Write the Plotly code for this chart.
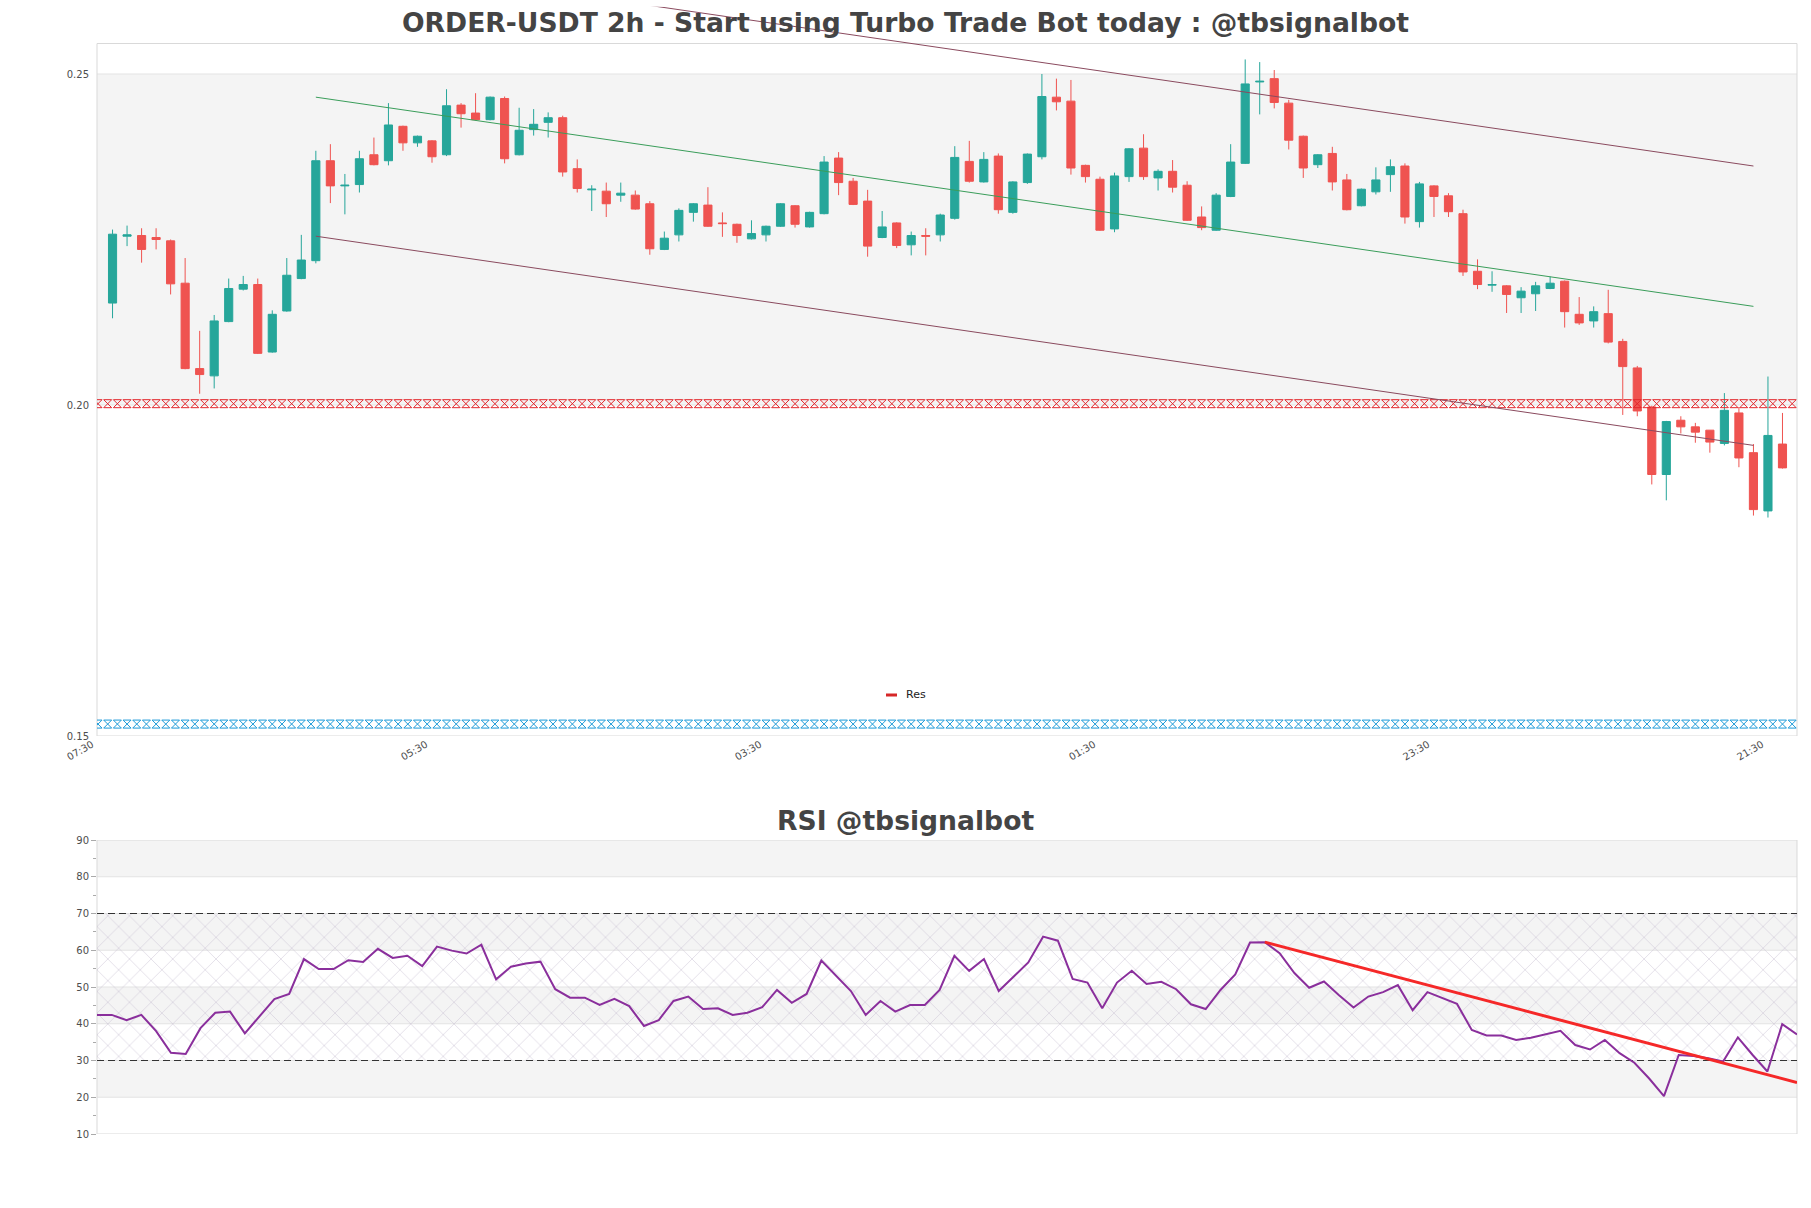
import pandas as pd
import plotly.graph_objects as go

FONT = "DejaVu Sans"

# ---------------- data ----------------
CANDLE_START = "2024-05-20 09:30"
candle_times = pd.date_range(CANDLE_START, periods=116, freq="2h")

open_ = [0.2154, 0.2255, 0.2256, 0.2253, 0.2248, 0.2184, 0.2055, 0.2044, 0.2126, 0.2175,
         0.2182, 0.2080, 0.2142, 0.2191, 0.2218, 0.2369, 0.2331, 0.2333, 0.2378, 0.2369,
         0.2421, 0.2396, 0.2399, 0.2378, 0.2453, 0.2441, 0.2431, 0.2463, 0.2378, 0.2416,
         0.2427, 0.2434, 0.2357, 0.2325, 0.2323, 0.2317, 0.2317, 0.2304, 0.2235, 0.2257,
         0.2291, 0.2302, 0.2275, 0.2273, 0.2251, 0.2257, 0.2270, 0.2301, 0.2269, 0.2289,
         0.2373, 0.2338, 0.2308, 0.2253, 0.2275, 0.2242, 0.2256, 0.2257, 0.2282, 0.2368,
         0.2337, 0.2376, 0.2291, 0.2336, 0.2375, 0.2465, 0.2459, 0.2362, 0.2341, 0.2266,
         0.2345, 0.2388, 0.2343, 0.2353, 0.2332, 0.2284, 0.2264, 0.2315, 0.2365, 0.2488,
         0.2493, 0.2456, 0.2406, 0.2363, 0.2380, 0.2340, 0.2301, 0.2322, 0.2348, 0.2361,
         0.2277, 0.2331, 0.2316, 0.2289, 0.2202, 0.2181, 0.2180, 0.2162, 0.2168, 0.2176,
         0.2187, 0.2137, 0.2127, 0.2138, 0.2096, 0.2056, 0.1997, 0.1895, 0.1977, 0.1967,
         0.1962, 0.1942, 0.1988, 0.1928, 0.1840, 0.1941]
high = [0.2265, 0.2271, 0.2267, 0.2267, 0.2250, 0.2222, 0.2112, 0.2136, 0.2191, 0.2195,
        0.2191, 0.2143, 0.2222, 0.2257, 0.2384, 0.2394, 0.2349, 0.2384, 0.2404, 0.2456,
        0.2422, 0.2407, 0.2400, 0.2477, 0.2456, 0.2471, 0.2466, 0.2466, 0.2449, 0.2447,
        0.2442, 0.2437, 0.2371, 0.2332, 0.2336, 0.2336, 0.2324, 0.2308, 0.2262, 0.2297,
        0.2305, 0.2329, 0.2291, 0.2274, 0.2279, 0.2271, 0.2305, 0.2302, 0.2292, 0.2376,
        0.2382, 0.2343, 0.2325, 0.2293, 0.2276, 0.2262, 0.2267, 0.2289, 0.2391, 0.2399,
        0.2382, 0.2380, 0.2338, 0.2380, 0.2500, 0.2493, 0.2491, 0.2363, 0.2345, 0.2351,
        0.2388, 0.2409, 0.2356, 0.2370, 0.2338, 0.2300, 0.2320, 0.2394, 0.2522, 0.2518,
        0.2506, 0.2461, 0.2407, 0.2379, 0.2390, 0.2349, 0.2327, 0.2359, 0.2371, 0.2365,
        0.2337, 0.2332, 0.2320, 0.2295, 0.2220, 0.2202, 0.2181, 0.2178, 0.2186, 0.2194,
        0.2188, 0.2163, 0.2149, 0.2174, 0.2100, 0.2059, 0.1999, 0.1976, 0.1983, 0.1973,
        0.1962, 0.2018, 0.1997, 0.1941, 0.2043, 0.1988]
low = [0.2131, 0.2240, 0.2215, 0.2235, 0.2167, 0.2054, 0.2017, 0.2025, 0.2125, 0.2173,
       0.2077, 0.2079, 0.2141, 0.2190, 0.2214, 0.2305, 0.2288, 0.2321, 0.2362, 0.2362,
       0.2384, 0.2390, 0.2366, 0.2376, 0.2419, 0.2430, 0.2430, 0.2365, 0.2377, 0.2407,
       0.2404, 0.2345, 0.2321, 0.2293, 0.2284, 0.2307, 0.2295, 0.2227, 0.2234, 0.2247,
       0.2277, 0.2269, 0.2254, 0.2245, 0.2250, 0.2247, 0.2269, 0.2268, 0.2268, 0.2288,
       0.2317, 0.2302, 0.2224, 0.2252, 0.2237, 0.2226, 0.2226, 0.2247, 0.2280, 0.2336,
       0.2336, 0.2289, 0.2289, 0.2334, 0.2371, 0.2445, 0.2348, 0.2336, 0.2263, 0.2261,
       0.2337, 0.2340, 0.2324, 0.2321, 0.2278, 0.2264, 0.2263, 0.2314, 0.2364, 0.2439,
       0.2448, 0.2386, 0.2343, 0.2358, 0.2324, 0.2294, 0.2300, 0.2318, 0.2322, 0.2274,
       0.2268, 0.2284, 0.2284, 0.2195, 0.2175, 0.2171, 0.2139, 0.2139, 0.2142, 0.2175,
       0.2117, 0.2121, 0.2117, 0.2093, 0.1985, 0.1983, 0.1880, 0.1856, 0.1957, 0.1943,
       0.1928, 0.1939, 0.1906, 0.1833, 0.1830, 0.1904]
close = [0.2258, 0.2257, 0.2235, 0.2250, 0.2183, 0.2055, 0.2046, 0.2127, 0.2176, 0.2182,
         0.2078, 0.2137, 0.2196, 0.2219, 0.2369, 0.2331, 0.2332, 0.2372, 0.2363, 0.2423,
         0.2396, 0.2406, 0.2375, 0.2452, 0.2440, 0.2431, 0.2465, 0.2372, 0.2415, 0.2424,
         0.2434, 0.2352, 0.2327, 0.2326, 0.2304, 0.2320, 0.2296, 0.2236, 0.2252, 0.2294,
         0.2304, 0.2270, 0.2274, 0.2256, 0.2259, 0.2270, 0.2304, 0.2273, 0.2291, 0.2367,
         0.2336, 0.2303, 0.2240, 0.2269, 0.2241, 0.2256, 0.2255, 0.2287, 0.2374, 0.2338,
         0.2371, 0.2295, 0.2337, 0.2379, 0.2466, 0.2458, 0.2358, 0.2345, 0.2264, 0.2346,
         0.2387, 0.2345, 0.2353, 0.2329, 0.2279, 0.2268, 0.2317, 0.2367, 0.2485, 0.2489,
         0.2457, 0.2400, 0.2358, 0.2378, 0.2337, 0.2295, 0.2326, 0.2340, 0.2360, 0.2284,
         0.2334, 0.2315, 0.2292, 0.2201, 0.2182, 0.2182, 0.2167, 0.2172, 0.2180, 0.2184,
         0.2141, 0.2124, 0.2141, 0.2095, 0.2058, 0.1991, 0.1895, 0.1975, 0.1967, 0.1959,
         0.1944, 0.1992, 0.1920, 0.1842, 0.1954, 0.1905]

rsi = [42.4, 42.4, 41.0, 42.4, 38.0, 32.1, 31.8, 38.8, 43.0, 43.3,
       37.4, 42.1, 46.7, 48.1, 57.6, 54.9, 54.9, 57.3, 56.8, 60.4,
       57.9, 58.5, 55.7, 61.0, 59.9, 59.1, 61.5, 52.1, 55.5, 56.4,
       56.9, 49.4, 47.1, 47.1, 45.1, 46.8, 44.8, 39.4, 41.0, 46.2,
       47.4, 44.0, 44.2, 42.4, 43.0, 44.5, 49.2, 45.7, 48.1, 57.2,
       53.0, 48.9, 42.4, 46.2, 43.3, 45.1, 45.1, 49.2, 58.5, 54.4,
       57.6, 48.9, 52.8, 56.7, 63.7, 62.6, 52.2, 51.2, 44.2, 51.2,
       54.4, 50.8, 51.4, 49.4, 45.3, 44.0, 49.2, 53.4, 62.1, 62.2,
       59.2, 53.8, 49.8, 51.5, 47.8, 44.4, 47.4, 48.6, 50.5, 43.7,
       48.6, 47.1, 45.4, 38.3, 36.8, 36.8, 35.6, 36.2, 37.2, 38.1,
       34.2, 33.0, 35.6, 32.0, 29.4, 25.1, 20.3, 31.5, 31.2, 30.6,
       29.7, 36.3, 31.5, 27.0, 39.9, 37.1]

tick_times = ["2024-05-20 07:30", "2024-05-22 05:30", "2024-05-24 03:30",
              "2024-05-26 01:30", "2024-05-27 23:30", "2024-05-29 21:30"]
tick_labels = ["07:30", "05:30", "03:30", "01:30", "23:30", "21:30"]

price_ticks = [0.15, 0.20, 0.25]
price_tick_labels = ["0.15", "0.20", "0.25"]

resistance_level = 0.2002
support_level = 0.1518

channel_idx = [14, 113]
channel_upper = [0.2677, 0.2361]
channel_mid = [0.2465, 0.2149]
channel_lower = [0.2255, 0.1939]

rsi_trend_idx = [79, 115]
rsi_trend_values = [62.2, 24.0]

RSI_OVERBOUGHT = 70
RSI_OVERSOLD = 30
rsi_band_starts = [20, 40, 60, 80]
rsi_grid = [20, 30, 40, 50, 60, 70, 80]

# ---------------- style / layout ----------------
W, H = 1811, 1208
STEP = pd.Timedelta(hours=2)
x_left = candle_times[0] - 1.07 * STEP
x_right = candle_times[-1] + 1.0 * STEP

XDOM = [97 / W, 1797 / W]
MAIN_YDOM = [1 - 736 / H, 1 - 6.7 / H]
MAIN_YRANGE = [0.15, 0.15 + (736 - 6.7) / 6620]
MAIN_FRAME_TOP = 0.15 + (736 - 43.5) / 6620
RSI_YDOM = [1 - 1134 / H, 1 - 840 / H]

BAND = "#f4f4f4"
GRID = "#e3e3e3"
FRAME = "#d9d9d9"
TICKC = "#4d4d4d"
UP, DOWN = "#26a69a", "#ef5350"

fig = go.Figure()

# level markers (support / resistance)
level_x = pd.date_range(candle_times[0] - STEP, x_right + STEP, freq="80min")
for lvl, col in [(resistance_level, "#e3262b"), (support_level, "#1b9ad8")]:
    fig.add_trace(go.Scatter(
        x=level_x, y=[lvl] * len(level_x), mode="markers",
        marker=dict(symbol="hourglass-open", size=8, color=col, line=dict(width=1, color=col)),
        xaxis="x", yaxis="y", hoverinfo="skip", showlegend=False))

# channel lines
ch_x = [candle_times[i] for i in channel_idx]
for vals, col in [(channel_upper, "#8a4a5e"), (channel_lower, "#8a4a5e"), (channel_mid, "#3a9d5a")]:
    fig.add_trace(go.Scatter(x=ch_x, y=vals, mode="lines", line=dict(color=col, width=1),
                             xaxis="x", yaxis="y", hoverinfo="skip", showlegend=False))

fig.add_trace(go.Candlestick(
    x=candle_times, open=open_, high=high, low=low, close=close,
    increasing=dict(line=dict(color=UP, width=1), fillcolor=UP),
    decreasing=dict(line=dict(color=DOWN, width=1), fillcolor=DOWN),
    whiskerwidth=0, xaxis="x", yaxis="y", showlegend=False))

# RSI hatch zone
t0, tN = candle_times[0], candle_times[-1]
fig.add_trace(go.Scatter(
    x=[t0, tN, tN, t0, t0],
    y=[RSI_OVERSOLD, RSI_OVERSOLD, RSI_OVERBOUGHT, RSI_OVERBOUGHT, RSI_OVERSOLD],
    mode="lines", line=dict(width=0), fill="toself", fillcolor="rgba(0,0,0,0)",
    fillpattern=dict(shape="x", size=15.3, solidity=0.12, fgcolor="#c8bfd2",
                     bgcolor="rgba(0,0,0,0)"),
    xaxis="x2", yaxis="y2", hoverinfo="skip", showlegend=False))

for lvl in [RSI_OVERBOUGHT, RSI_OVERSOLD]:
    fig.add_trace(go.Scatter(x=[t0, tN], y=[lvl, lvl], mode="lines",
                             line=dict(color="#333333", width=1, dash="7px,4px"),
                             xaxis="x2", yaxis="y2", hoverinfo="skip", showlegend=False))

fig.add_trace(go.Scatter(x=candle_times, y=rsi, mode="lines",
                         line=dict(color="#8a2f9c", width=2),
                         xaxis="x2", yaxis="y2", showlegend=False))

fig.add_trace(go.Scatter(x=[candle_times[i] for i in rsi_trend_idx], y=rsi_trend_values,
                         mode="lines", line=dict(color="#f52828", width=3),
                         xaxis="x2", yaxis="y2", hoverinfo="skip", showlegend=False))

shapes = []
shapes.append(dict(type="rect", xref="x domain", yref="y", x0=0, x1=1,
                   y0=price_ticks[1], y1=price_ticks[2], fillcolor=BAND, line=dict(width=0), layer="below"))
for v in price_ticks[1:]:
    shapes.append(dict(type="line", xref="x domain", yref="y", x0=0, x1=1, y0=v, y1=v,
                       line=dict(color=GRID, width=1), layer="below"))
shapes.append(dict(type="rect", xref="x domain", yref="y", x0=0, x1=1,
                   y0=price_ticks[0], y1=MAIN_FRAME_TOP, line=dict(color=FRAME, width=1), layer="below"))
for lo in rsi_band_starts:
    shapes.append(dict(type="rect", xref="x2 domain", yref="y2", x0=0, x1=1, y0=lo, y1=lo + 10,
                       fillcolor=BAND, line=dict(width=0), layer="below"))
for v in rsi_grid:
    shapes.append(dict(type="line", xref="x2 domain", yref="y2", x0=0, x1=1, y0=v, y1=v,
                       line=dict(color=GRID, width=1), layer="below"))
shapes.append(dict(type="rect", xref="x2 domain", yref="y2", x0=0, x1=1, y0=10, y1=90,
                   line=dict(color=FRAME, width=1), layer="below"))
# legend swatch
shapes.append(dict(type="line", xref="paper", yref="paper", x0=886 / W, x1=897 / W,
                   y0=1 - 695 / H, y1=1 - 695 / H, line=dict(color="#d62728", width=3)))

annotations = [
    dict(text="<b>ORDER-USDT 2h - Start using Turbo Trade Bot today : @tbsignalbot</b>",
         xref="paper", yref="paper", x=905 / W, y=1 - 22 / H, xanchor="center", yanchor="middle",
         showarrow=False, font=dict(family=FONT, size=26.6, color="#444444")),
    dict(text="<b>RSI @tbsignalbot</b>",
         xref="paper", yref="paper", x=905 / W, y=1 - 820 / H, xanchor="center", yanchor="middle",
         showarrow=False, font=dict(family=FONT, size=26.6, color="#444444")),
    dict(text="Res", xref="paper", yref="paper", x=904 / W, y=1 - 694.5 / H,
         xanchor="left", yanchor="middle", showarrow=False,
         font=dict(family=FONT, size=11, color="#222222")),
]

fig.update_layout(
    width=W, height=H, margin=dict(l=0, r=0, t=0, b=0, autoexpand=False),
    paper_bgcolor="white", plot_bgcolor="rgba(0,0,0,0)",
    font=dict(family=FONT, size=10, color=TICKC),
    showlegend=False, shapes=shapes, annotations=annotations, boxgap=0.2,
    xaxis=dict(domain=XDOM, anchor="y", type="date", range=[x_left, x_right],
               tickvals=tick_times, ticktext=tick_labels, tickangle=-30, ticklabelshift=-6,
               tickfont=dict(family=FONT, size=10, color=TICKC), automargin=False,
               showgrid=False, zeroline=False, showline=False, ticks="",
               rangeslider=dict(visible=False)),
    yaxis=dict(domain=MAIN_YDOM, anchor="x", range=MAIN_YRANGE, automargin=False,
               tickvals=price_ticks, ticktext=price_tick_labels,
               tickfont=dict(family=FONT, size=10, color=TICKC),
               showgrid=False, zeroline=False, showline=False, ticks="", ticklabelstandoff=7),
    xaxis2=dict(domain=XDOM, anchor="y2", type="date", range=[t0, tN], automargin=False,
                showticklabels=False, showgrid=False, zeroline=False, showline=False, ticks=""),
    yaxis2=dict(domain=RSI_YDOM, anchor="x2", range=[10, 90], tick0=10, dtick=10, automargin=False,
                tickfont=dict(family=FONT, size=10, color=TICKC),
                ticks="outside", ticklen=5, tickcolor="#aaaaaa",
                minor=dict(ticks="outside", ticklen=3, tickcolor="#aaaaaa", dtick=5, tick0=15, showgrid=False),
                showgrid=False, zeroline=False, showline=False),
)

fig.write_html("out.html")
